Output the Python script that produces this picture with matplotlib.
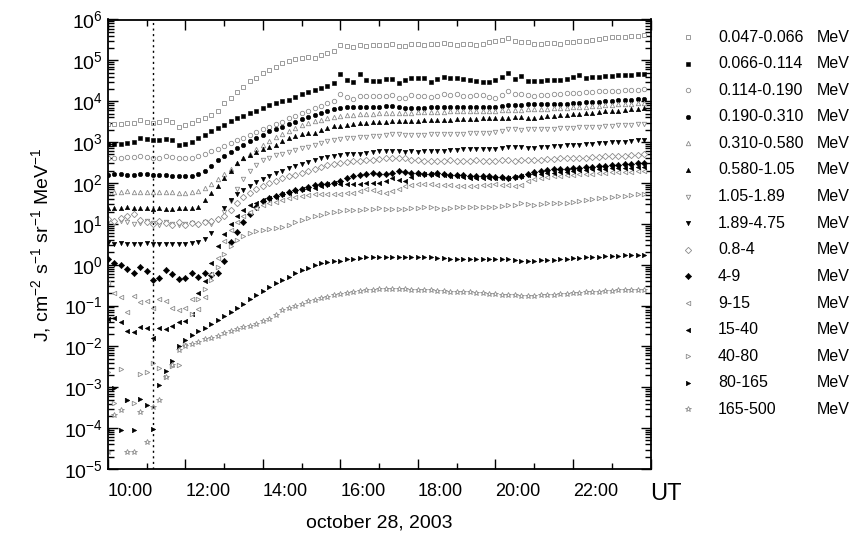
import numpy as np
import matplotlib
matplotlib.use("Agg")
import matplotlib.pyplot as plt
from matplotlib import font_manager
from matplotlib.ticker import FixedLocator, LogLocator, NullFormatter

# log10 of the flux J, every 10 minutes, 10:00 .. 23:50 UT
hours = [10 + k / 6 for k in range(84)]

lg_047_066 = [3.44, 3.44, 3.45, 3.46, 3.47, 3.53, 3.50, 3.47, 3.48, 3.54, 3.50, 3.37,
              3.41, 3.46, 3.55, 3.60, 3.66, 3.76, 3.95, 4.08, 4.22, 4.36, 4.50, 4.56,
              4.70, 4.76, 4.83, 4.93, 4.99, 5.03, 5.06, 5.08, 5.05, 5.12, 5.18, 5.22,
              5.38, 5.35, 5.33, 5.38, 5.36, 5.37, 5.37, 5.37, 5.40, 5.36, 5.36, 5.41,
              5.39, 5.38, 5.41, 5.40, 5.42, 5.40, 5.38, 5.41, 5.39, 5.38, 5.41, 5.45,
              5.47, 5.50, 5.55, 5.47, 5.45, 5.45, 5.40, 5.39, 5.42, 5.42, 5.41, 5.44,
              5.45, 5.47, 5.48, 5.50, 5.52, 5.55, 5.57, 5.57, 5.58, 5.59, 5.60, 5.61]
lg_066_114 = [2.95, 2.95, 2.96, 2.98, 3.00, 3.10, 3.07, 3.05, 3.06, 3.07, 3.04, 2.93,
              2.96, 3.00, 3.10, 3.18, 3.27, 3.35, 3.42, 3.52, 3.58, 3.64, 3.70, 3.76,
              3.83, 3.90, 3.95, 4.00, 4.04, 4.10, 4.17, 4.22, 4.27, 4.32, 4.38, 4.44,
              4.66, 4.51, 4.47, 4.66, 4.52, 4.50, 4.50, 4.54, 4.55, 4.45, 4.52, 4.56,
              4.57, 4.58, 4.47, 4.55, 4.60, 4.57, 4.56, 4.55, 4.52, 4.49, 4.47, 4.48,
              4.52, 4.60, 4.70, 4.55, 4.62, 4.50, 4.49, 4.50, 4.52, 4.52, 4.51, 4.55,
              4.60, 4.64, 4.56, 4.60, 4.60, 4.61, 4.62, 4.63, 4.64, 4.65, 4.66, 4.66]
lg_114_190 = [2.61, 2.61, 2.62, 2.63, 2.64, 2.66, 2.63, 2.60, 2.62, 2.65, 2.64, 2.61,
              2.61, 2.62, 2.66, 2.72, 2.77, 2.84, 2.91, 2.97, 3.04, 3.11, 3.17, 3.24,
              3.31, 3.38, 3.44, 3.50, 3.58, 3.64, 3.70, 3.76, 3.83, 3.89, 3.95, 4.00,
              4.17, 4.10, 4.06, 4.12, 4.13, 4.12, 4.12, 4.13, 4.15, 4.07, 4.08, 4.16,
              4.14, 4.12, 4.11, 4.13, 4.17, 4.15, 4.18, 4.13, 4.14, 4.15, 4.15, 4.10,
              4.08, 4.16, 4.24, 4.17, 4.18, 4.15, 4.14, 4.15, 4.16, 4.17, 4.18, 4.19,
              4.20, 4.21, 4.22, 4.23, 4.24, 4.24, 4.25, 4.26, 4.27, 4.28, 4.28, 4.29]
lg_190_310 = [2.20, 2.22, 2.21, 2.20, 2.20, 2.21, 2.22, 2.20, 2.19, 2.19, 2.18, 2.17,
              2.17, 2.18, 2.22, 2.30, 2.42, 2.55, 2.66, 2.76, 2.86, 2.94, 3.02, 3.10,
              3.18, 3.26, 3.32, 3.38, 3.44, 3.50, 3.56, 3.61, 3.66, 3.72, 3.76, 3.81,
              3.83, 3.85, 3.85, 3.86, 3.85, 3.87, 3.87, 3.88, 3.88, 3.86, 3.83, 3.84,
              3.84, 3.84, 3.85, 3.86, 3.87, 3.87, 3.87, 3.86, 3.85, 3.86, 3.87, 3.86,
              3.86, 3.88, 3.90, 3.91, 3.91, 3.92, 3.93, 3.93, 3.93, 3.94, 3.94, 3.94,
              3.95, 3.96, 3.97, 3.98, 3.99, 4.00, 4.01, 4.02, 4.03, 4.04, 4.05, 4.05]
lg_310_580 = [1.78, 1.79, 1.78, 1.80, 1.79, 1.78, 1.77, 1.78, 1.78, 1.79, 1.78, 1.76,
              1.76, 1.78, 1.81, 1.87, 1.97, 2.10, 2.22, 2.35, 2.48, 2.60, 2.71, 2.82,
              2.93, 3.03, 3.12, 3.20, 3.28, 3.35, 3.42, 3.47, 3.51, 3.55, 3.58, 3.61,
              3.64, 3.66, 3.67, 3.68, 3.68, 3.69, 3.70, 3.70, 3.71, 3.71, 3.72, 3.72,
              3.73, 3.73, 3.73, 3.74, 3.74, 3.75, 3.75, 3.75, 3.76, 3.76, 3.76, 3.77,
              3.77, 3.78, 3.78, 3.79, 3.79, 3.80, 3.81, 3.82, 3.82, 3.83, 3.83, 3.84,
              3.85, 3.86, 3.87, 3.88, 3.89, 3.90, 3.91, 3.92, 3.93, 3.94, 3.95, 3.96]
lg_580_105 = [1.39, 1.38, 1.39, 1.40, 1.39, 1.38, 1.38, 1.37, 1.38, 1.37, 1.37, 1.38,
              1.38, 1.38, 1.42, 1.58, 1.75, 1.93, 2.12, 2.30, 2.48, 2.60, 2.69, 2.76,
              2.83, 2.88, 2.94, 3.02, 3.09, 3.15, 3.20, 3.22, 3.22, 3.30, 3.35, 3.39,
              3.40, 3.42, 3.44, 3.46, 3.47, 3.48, 3.49, 3.50, 3.51, 3.51, 3.52, 3.52,
              3.52, 3.53, 3.53, 3.54, 3.55, 3.55, 3.56, 3.56, 3.56, 3.57, 3.58, 3.58,
              3.59, 3.59, 3.60, 3.62, 3.62, 3.58, 3.60, 3.62, 3.64, 3.65, 3.66, 3.67,
              3.68, 3.69, 3.70, 3.72, 3.74, 3.75, 3.76, 3.77, 3.79, 3.80, 3.82, 3.83]
lg_105_189 = [1.05, 1.02, 1.08, 1.05, 1.00, 1.03, 1.06, 1.02, 0.98, 1.04, 1.00, 0.97,
              1.00, 1.03, 0.98, 1.05, 1.00, 1.10, 1.28, 1.55, 1.85, 2.10, 2.30, 2.45,
              2.55, 2.62, 2.68, 2.72, 2.76, 2.80, 2.85, 2.88, 2.92, 2.97, 3.02, 3.06,
              3.08, 3.10, 3.10, 3.12, 3.13, 3.14, 3.16, 3.18, 3.20, 3.21, 3.18, 3.17,
              3.17, 3.18, 3.20, 3.21, 3.20, 3.19, 3.20, 3.21, 3.22, 3.22, 3.23, 3.22,
              3.24, 3.27, 3.32, 3.33, 3.30, 3.32, 3.32, 3.31, 3.32, 3.33, 3.34, 3.35,
              3.35, 3.36, 3.37, 3.38, 3.38, 3.39, 3.40, 3.41, 3.42, 3.43, 3.44, 3.45]
lg_189_475 = [0.52, 0.51, 0.52, 0.51, 0.50, 0.51, 0.52, 0.51, 0.50, 0.51, 0.50, 0.50,
              0.51, 0.52, 0.55, 0.62, 0.78, 1.10, 1.38, 1.58, 1.72, 1.82, 1.92, 2.02,
              2.10, 2.18, 2.24, 2.30, 2.36, 2.42, 2.47, 2.51, 2.56, 2.60, 2.64, 2.67,
              2.68, 2.70, 2.71, 2.72, 2.74, 2.76, 2.77, 2.77, 2.77, 2.78, 2.76, 2.77,
              2.76, 2.77, 2.78, 2.78, 2.79, 2.80, 2.81, 2.82, 2.82, 2.83, 2.83, 2.84,
              2.84, 2.85, 2.87, 2.89, 2.87, 2.86, 2.86, 2.87, 2.88, 2.90, 2.91, 2.92,
              2.93, 2.94, 2.95, 2.96, 2.97, 2.98, 2.99, 3.00, 3.01, 3.03, 3.05, 3.06]
lg_08_4 = [1.12, 1.08, 1.15, 1.18, 1.24, 1.10, 1.05, 1.00, 1.08, 1.02, 0.98, 1.05,
           0.97, 1.02, 1.00, 1.05, 1.08, 1.12, 1.20, 1.35, 1.52, 1.65, 1.76, 1.85,
           1.93, 2.00, 2.06, 2.12, 2.16, 2.20, 2.25, 2.30, 2.35, 2.40, 2.44, 2.47,
           2.49, 2.51, 2.53, 2.54, 2.55, 2.57, 2.58, 2.60, 2.61, 2.62, 2.60, 2.57,
           2.55, 2.54, 2.54, 2.53, 2.54, 2.55, 2.54, 2.53, 2.54, 2.55, 2.54, 2.54,
           2.54, 2.55, 2.55, 2.54, 2.55, 2.56, 2.57, 2.57, 2.58, 2.59, 2.60, 2.60,
           2.61, 2.62, 2.62, 2.63, 2.64, 2.65, 2.66, 2.66, 2.67, 2.68, 2.69, 2.70]
lg_4_9 = [0.15, 0.05, -0.02, -0.10, -0.20, -0.05, -0.15, -0.38, -0.32, -0.12, -0.22, -0.35,
          -0.33, -0.20, -0.30, -0.20, -0.25, -0.20, 0.10, 0.55, 0.80, 1.05, 1.25, 1.42,
          1.55, 1.62, 1.68, 1.73, 1.78, 1.82, 1.86, 1.90, 1.95, 1.98, 1.98, 2.00,
          2.05, 2.12, 2.17, 2.20, 2.22, 2.24, 2.23, 2.22, 2.25, 2.29, 2.27, 2.24,
          2.24, 2.23, 2.23, 2.24, 2.22, 2.20, 2.20, 2.19, 2.18, 2.17, 2.17, 2.16,
          2.15, 2.14, 2.13, 2.14, 2.18, 2.22, 2.26, 2.29, 2.32, 2.33, 2.34, 2.35,
          2.36, 2.37, 2.38, 2.40, 2.41, 2.42, 2.44, 2.45, 2.46, 2.47, 2.48, 2.49]
lg_9_15 = [-0.46, -0.70, -0.80, -1.17, -0.76, -0.92, -0.88, -1.05, -0.83, -0.88, -1.05, -1.12,
           -1.05, -0.83, -1.08, -0.80, -0.22, 0.17, 0.59, 0.85, 1.05, 1.20, 1.30, 1.38,
           1.45, 1.50, 1.54, 1.58, 1.62, 1.66, 1.68, 1.70, 1.72, 1.72, 1.73, 1.74,
           1.74, 1.75, 1.76, 1.80, 1.85, 1.82, 1.78, 1.76, 1.80, 1.85, 1.92, 1.95,
           1.98, 1.98, 1.97, 1.96, 1.95, 1.94, 1.93, 1.93, 1.92, 1.93, 1.95, 1.96,
           1.97, 1.96, 1.94, 1.92, 1.95, 2.05, 2.10, 2.12, 2.14, 2.16, 2.18, 2.19,
           2.20, 2.21, 2.22, 2.23, 2.24, 2.25, 2.26, 2.27, 2.27, 2.28, 2.29, 2.29]
lg_15_40 = [-1.32, -1.30, -1.40, -1.62, -1.65, -1.52, -1.55, -1.80, -1.55, -1.58, -1.50, -1.40,
            -1.37, -1.20, -0.70, -0.40, 0.05, 0.45, 0.75, 1.00, 1.20, 1.35, 1.45, 1.52,
            1.58, 1.62, 1.66, 1.72, 1.76, 1.80, 1.84, 1.86, 1.88, 1.92, 1.97, 1.99,
            1.98, 1.98, 1.98, 1.98, 1.99, 2.00, 2.01, 2.05, 2.12, 2.08, 2.05, 2.15,
            2.22, 2.22, 2.21, 2.20, 2.19, 2.18, 2.16, 2.14, 2.12, 2.12, 2.12, 2.12,
            2.12, 2.12, 2.13, 2.15, 2.18, 2.20, 2.21, 2.22, 2.24, 2.25, 2.26, 2.28,
            2.30, 2.31, 2.32, 2.33, 2.34, 2.35, 2.36, 2.36, 2.37, 2.37, 2.38, 2.38]
lg_40_80 = [-2.63, -3.39, -2.55, -3.30, -3.39, -2.68, -2.62, -2.40, -2.52, -2.76, -2.48, -2.45,
            -1.95, -1.20, -0.85, -0.60, -0.38, -0.05, 0.25, 0.45, 0.60, 0.70, 0.78, 0.82,
            0.86, 0.88, 0.90, 0.92, 0.98, 1.05, 1.10, 1.14, 1.18, 1.22, 1.26, 1.30,
            1.32, 1.33, 1.34, 1.35, 1.36, 1.37, 1.38, 1.37, 1.36, 1.36, 1.37, 1.38,
            1.39, 1.40, 1.40, 1.38, 1.37, 1.39, 1.40, 1.40, 1.40, 1.40, 1.40, 1.40,
            1.41, 1.43, 1.45, 1.47, 1.50, 1.49, 1.47, 1.48, 1.50, 1.50, 1.51, 1.52,
            1.53, 1.55, 1.58, 1.60, 1.62, 1.64, 1.66, 1.68, 1.69, 1.70, 1.72, 1.73]
lg_80_165 = [-4.05, -3.02, -4.05, -3.30, -4.05, -3.28, -3.44, -4.02, -2.95, -2.60, -2.35, -1.98,
             -1.85, -1.72, -1.62, -1.55, -1.45, -1.35, -1.25, -1.15, -1.05, -0.95, -0.85, -0.75,
             -0.65, -0.55, -0.46, -0.38, -0.30, -0.20, -0.12, -0.07, -0.02, 0.03, 0.07, 0.10,
             0.10, 0.13, 0.15, 0.17, 0.18, 0.19, 0.19, 0.20, 0.20, 0.19, 0.19, 0.20,
             0.20, 0.19, 0.18, 0.17, 0.16, 0.15, 0.15, 0.14, 0.14, 0.14, 0.14, 0.13,
             0.13, 0.14, 0.14, 0.12, 0.10, 0.10, 0.10, 0.11, 0.12, 0.12, 0.13, 0.15,
             0.16, 0.17, 0.18, 0.19, 0.20, 0.21, 0.22, 0.22, 0.23, 0.23, 0.24, 0.24]
lg_165_500 = [-4.59, -3.68, -3.56, -4.59, -4.59, -3.61, -4.34, -3.49, -3.30, -2.76, -2.45, -2.10,
              -2.00, -1.95, -1.88, -1.83, -1.79, -1.75, -1.68, -1.62, -1.58, -1.53, -1.50, -1.45,
              -1.38, -1.32, -1.22, -1.12, -1.05, -1.00, -0.95, -0.90, -0.86, -0.82, -0.78, -0.75,
              -0.72, -0.70, -0.68, -0.65, -0.63, -0.62, -0.60, -0.60, -0.59, -0.59, -0.60, -0.61,
              -0.62, -0.63, -0.63, -0.64, -0.65, -0.66, -0.67, -0.67, -0.68, -0.69, -0.70, -0.71,
              -0.72, -0.73, -0.74, -0.75, -0.76, -0.77, -0.76, -0.75, -0.74, -0.73, -0.72, -0.71,
              -0.70, -0.69, -0.68, -0.67, -0.66, -0.65, -0.64, -0.63, -0.62, -0.62, -0.61, -0.61]

channels = ["0.047-0.066", "0.066-0.114", "0.114-0.190", "0.190-0.310", "0.310-0.580",
            "0.580-1.05", "1.05-1.89", "1.89-4.75", "0.8-4", "4-9", "9-15", "15-40",
            "40-80", "80-165", "165-500"]
series = [lg_047_066, lg_066_114, lg_114_190, lg_190_310, lg_310_580, lg_580_105,
          lg_105_189, lg_189_475, lg_08_4, lg_4_9, lg_9_15, lg_15_40, lg_40_80,
          lg_80_165, lg_165_500]
markers = ["s", "s", "o", "o", "^", "^", "v", "v", "D", "D", "<", "<", ">", ">", "*"]
filled = [False, True] * 7 + [False]

onset = 11 + 10 / 60  # dotted line
xticks = [10, 12, 14, 16, 18, 20, 22, 24]
xlabels = ["10:00", "12:00", "14:00", "16:00", "18:00", "20:00", "22:00", "UT"]

names = {f.name for f in font_manager.fontManager.ttflist}
narrow = "Liberation Sans Narrow" if "Liberation Sans Narrow" in names else "Liberation Sans"
plt.rcParams["font.family"] = "Liberation Sans"
plt.rcParams["mathtext.fontset"] = "custom"
plt.rcParams["mathtext.rm"] = "Liberation Sans"
plt.rcParams["mathtext.it"] = "Liberation Sans"
plt.rcParams["mathtext.default"] = "regular"

W, H = 856, 533
fig = plt.figure(figsize=(W / 100, H / 100), dpi=100)
x0, x1, y0, y1 = 107.8, 650.5, 19.5, 469
ax = fig.add_axes([x0 / W, 1 - y1 / H, (x1 - x0) / W, (y1 - y0) / H])

gray = "#8c8c8c"
for vals, m, f in zip(series, markers, filled):
    ms = 3.8 if m == "*" else 3.2
    if f:
        ax.plot(hours, 10 ** np.array(vals), ls="none", marker=m, ms=ms,
                mfc="black", mec="black", mew=0.4)
    else:
        ax.plot(hours, 10 ** np.array(vals), ls="none", marker=m, ms=ms,
                mfc="white", mec=gray, mew=0.6)

ax.axvline(onset, color="black", ls=(0, (1.5, 2.5)), lw=1.0)

ax.set_yscale("log")
ax.set_ylim(1e-5, 1e6)
ax.set_xlim(10, 24)
ax.yaxis.set_major_locator(LogLocator(base=10, numticks=20))
ax.yaxis.set_minor_locator(LogLocator(base=10, subs=np.arange(2, 10), numticks=20))
ax.yaxis.set_minor_formatter(NullFormatter())
ax.xaxis.set_major_locator(FixedLocator(xticks))
ax.xaxis.set_minor_locator(FixedLocator([11, 13, 15, 17, 19, 21, 23]))
ax.set_xticklabels(xlabels)
for lab in ax.get_xticklabels():
    lab.set_fontfamily(narrow)
    lab.set_fontsize(13)
    lab.set_horizontalalignment("left")
ax.get_xticklabels()[-1].set_fontsize(17)
ax.tick_params(which="both", direction="in", top=True, right=True, width=1.0)
ax.tick_params(which="major", length=7)
ax.tick_params(axis="x", which="major", pad=10)
ax.tick_params(which="minor", length=4)
ax.tick_params(axis="y", labelsize=14)
for s in ax.spines.values():
    s.set_linewidth(1.3)

ax.set_ylabel(r"J, cm$^{-2}$ s$^{-1}$ sr$^{-1}$ MeV$^{-1}$", fontsize=14, labelpad=8)
ax.set_xlabel("october 28, 2003", fontsize=14, fontfamily=narrow)
ax.xaxis.set_label_coords(0.5, -(514 - y1) / (y1 - y0))

# legend drawn by hand so that the "MeV" column lines up
for k, (lab, m, f) in enumerate(zip(channels, markers, filled)):
    yy = 1 - (37 + 26.6 * k) / H
    if f:
        fig.add_artist(plt.Line2D([688 / W], [yy], ls="none", marker=m, ms=3.2,
                                  mfc="black", mec="black", mew=0.4))
    else:
        fig.add_artist(plt.Line2D([688 / W], [yy], ls="none", marker=m,
                                  ms=3.8 if m == "*" else 3.2,
                                  mfc="white", mec=gray, mew=0.6))
    fig.text(718 / W, yy, lab, fontsize=11.5, va="center", ha="left")
    fig.text(817 / W, yy, "MeV", fontsize=11.5, va="center", ha="left")

fig.savefig("out.png", dpi=100)
